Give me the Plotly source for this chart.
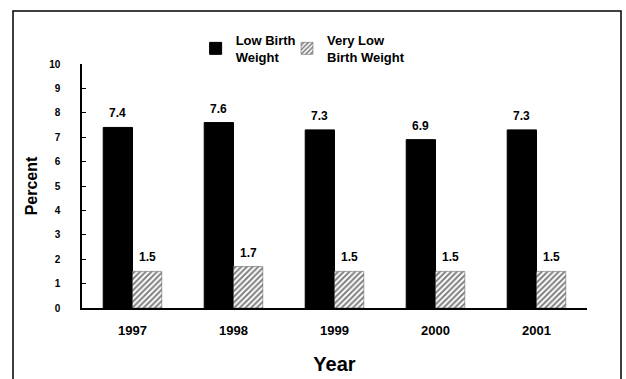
import plotly.graph_objects as go

years = ["1997", "1998", "1999", "2000", "2001"]
low_birth_weight = [7.4, 7.6, 7.3, 6.9, 7.3]
very_low_birth_weight = [1.5, 1.7, 1.5, 1.5, 1.5]
y_ticks = list(range(0, 11))

FONT = "Liberation Sans, Arial, sans-serif"


def bold(size):
    return dict(family=FONT, size=size, color="black", weight="bold")


fig = go.Figure()
fig.add_trace(go.Bar(
    x=years, y=low_birth_weight, name="Low Birth<br>Weight",
    marker=dict(color="black", line=dict(color="black", width=1)),
    legend="legend", showlegend=True,
))
fig.add_trace(go.Bar(
    x=years, y=very_low_birth_weight, name="Very Low<br>Birth Weight",
    marker=dict(color="white", line=dict(color="#555", width=0.5),
                pattern=dict(shape="/", fgcolor="black", bgcolor="white",
                             size=4, solidity=0.5)),
    legend="legend2", showlegend=True,
))

# value labels sitting a little above each bar of the grouped pair
# (category index used as the annotation x position)
annotations = []
for series, shift in ((low_birth_weight, -14.6), (very_low_birth_weight, 14.6)):
    for i, v in enumerate(series):
        annotations.append(dict(x=i, y=v, xref="x", yref="y", text=f"{v:.1f}",
                                showarrow=False, xshift=shift, yshift=5,
                                yanchor="bottom", font=bold(12)))

legend_common = dict(orientation="h", y=1.16, xanchor="left", yanchor="top",
                     font=bold(13), itemwidth=30, bgcolor="rgba(0,0,0,0)")

fig.update_layout(
    width=626, height=379,
    margin=dict(l=82, r=39, t=64, b=71),
    paper_bgcolor="white", plot_bgcolor="white",
    barmode="group", bargap=0.42, bargroupgap=0,
    font=dict(family=FONT, color="black"),
    showlegend=True,
    legend=dict(x=0.225, **legend_common),
    legend2=dict(x=0.406, **legend_common),
    annotations=annotations,
    xaxis=dict(type="category", categoryorder="array", categoryarray=years,
               range=[-0.5, len(years) - 0.5],
               showline=True, linecolor="black", linewidth=1.5, ticks="",
               tickfont=bold(13), ticklabelstandoff=10, automargin=False,
               title=dict(text="<b>Year</b>", font=dict(family=FONT, size=20), standoff=20),
               showgrid=False),
    yaxis=dict(range=[0, 10], tickvals=y_ticks, showline=True, linecolor="black",
               linewidth=1.5, ticks="inside", ticklen=4, tickcolor="black",
               tickfont=bold(10), ticklabelstandoff=18, automargin=False,
               title=dict(text="<b>Percent</b>", font=dict(family=FONT, size=16), standoff=8),
               showgrid=False, zeroline=False),
    shapes=[dict(type="rect", xref="paper", yref="paper",
                 x0=(13 - 82) / 505, x1=(621 - 82) / 505,
                 y0=-0.4, y1=(308 - 11) / 244,
                 line=dict(color="black", width=1.5), layer="below")],
)

fig.write_html("out.html")
